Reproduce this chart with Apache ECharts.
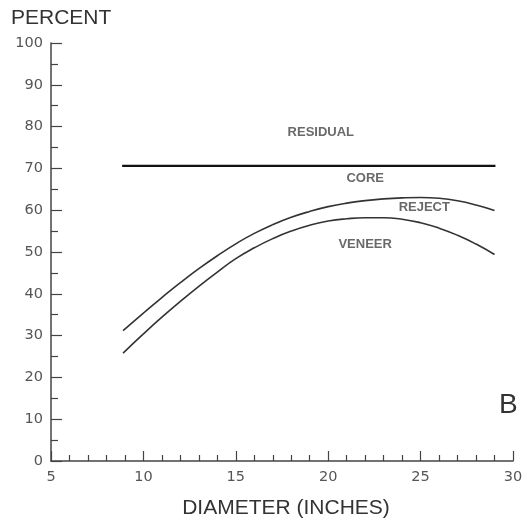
<!DOCTYPE html>
<html>
<head>
<meta charset="utf-8">
<script src="https://cdn.jsdelivr.net/npm/echarts@6/dist/echarts.min.js"></script>
<style>
  html, body { margin: 0; padding: 0; background: #fff; }
  #chart { width: 526px; height: 524px; }
</style>
</head>
<body>
<div id="chart"></div>
<script>
  // diameter in inches
  var diameter = [8.9, 10, 11, 12, 13, 14, 15, 16, 17, 18, 19, 20, 21, 22, 23, 24, 25, 26, 27, 28, 29]
  // upper curve: core / reject boundary
  var coreReject = [31.2, 35.4, 39.1, 42.65, 46.0, 49.1, 51.95, 54.45, 56.55, 58.3, 59.7, 60.85, 61.7, 62.3, 62.7, 62.95, 63.05, 62.85, 62.25, 61.25, 59.95]
  // lower curve: reject / veneer boundary
  var rejectVeneer = [25.8, 30.4, 34.4, 38.2, 41.8, 45.2, 48.4, 51.0, 53.2, 55.0, 56.4, 57.4, 57.95, 58.2, 58.2, 57.85, 57.0, 55.7, 54.0, 51.9, 49.4]
  // residual / core boundary
  var residualX = [8.85, 29.05]
  var residualY = [70.6, 70.6]
  // zone labels
  var zoneNames = ['RESIDUAL', 'CORE', 'REJECT', 'VENEER']
  var zoneX = [19.6, 22.0, 25.2, 22.0]
  var zoneY = [78.7, 67.5, 60.6, 51.9]

  function pairs(xs, ys) {
    return xs.map(function (x, i) { return [x, ys[i]] })
  }

  var myChart = echarts.init(document.getElementById('chart'))
  var tickFont = { color: '#555', fontSize: 14.5, fontFamily: 'DejaVu Sans' }

  myChart.setOption({
    animation: false,
    grid: { left: 51, right: 13, top: 43, bottom: 59 },
    xAxis: {
      type: 'value',
      min: 5, max: 30, interval: 5,
      name: 'DIAMETER (INCHES)',
      nameLocation: 'middle',
      nameGap: 37,
      nameTextStyle: { color: '#333', fontSize: 21, fontFamily: 'Liberation Sans', padding: [0, 0, 0, 8] },
      axisLine: { lineStyle: { color: '#444', width: 1.5 } },
      axisTick: { inside: true, length: 10, lineStyle: { color: '#444', width: 1.2 } },
      minorTick: { show: true, splitNumber: 5, length: 6, lineStyle: { color: '#444', width: 1.2 } },
      axisLabel: Object.assign({ margin: 9 }, tickFont),
      splitLine: { show: false }
    },
    yAxis: {
      type: 'value',
      min: 0, max: 100, interval: 10,
      axisLine: { show: true, lineStyle: { color: '#444', width: 1.5 } },
      axisTick: { show: true, inside: true, length: 11, lineStyle: { color: '#444', width: 1.2 } },
      minorTick: { show: true, splitNumber: 2, length: 7, lineStyle: { color: '#444', width: 1.2 } },
      axisLabel: Object.assign({ margin: 8 }, tickFont),
      splitLine: { show: false }
    },
    graphic: [
      { type: 'text', left: 11, top: 8, style: { text: 'PERCENT', fill: '#333', fontSize: 21, fontFamily: 'Liberation Sans' } },
      { type: 'text', left: 499, top: 391, style: { text: 'B', fill: '#333', fontSize: 28, fontFamily: 'Liberation Sans' } }
    ],
    series: [
      {
        name: 'residual',
        type: 'line',
        symbol: 'none',
        lineStyle: { color: '#111', width: 2.2 },
        data: pairs(residualX, residualY)
      },
      {
        name: 'core',
        type: 'line',
        smooth: true,
        symbol: 'none',
        lineStyle: { color: '#333', width: 1.6 },
        data: pairs(diameter, coreReject)
      },
      {
        name: 'reject',
        type: 'line',
        smooth: true,
        symbol: 'none',
        lineStyle: { color: '#333', width: 1.6 },
        data: pairs(diameter, rejectVeneer)
      },
      {
        name: 'labels',
        type: 'scatter',
        symbolSize: 0,
        silent: true,
        label: {
          show: true,
          position: 'inside',
          formatter: function (p) { return p.name },
          color: '#444', fontSize: 13, fontWeight: 'bold', fontFamily: 'Liberation Sans'
        },
        data: zoneNames.map(function (n, i) { return { name: n, value: [zoneX[i], zoneY[i]] } })
      }
    ]
  })
</script>
</body>
</html>
